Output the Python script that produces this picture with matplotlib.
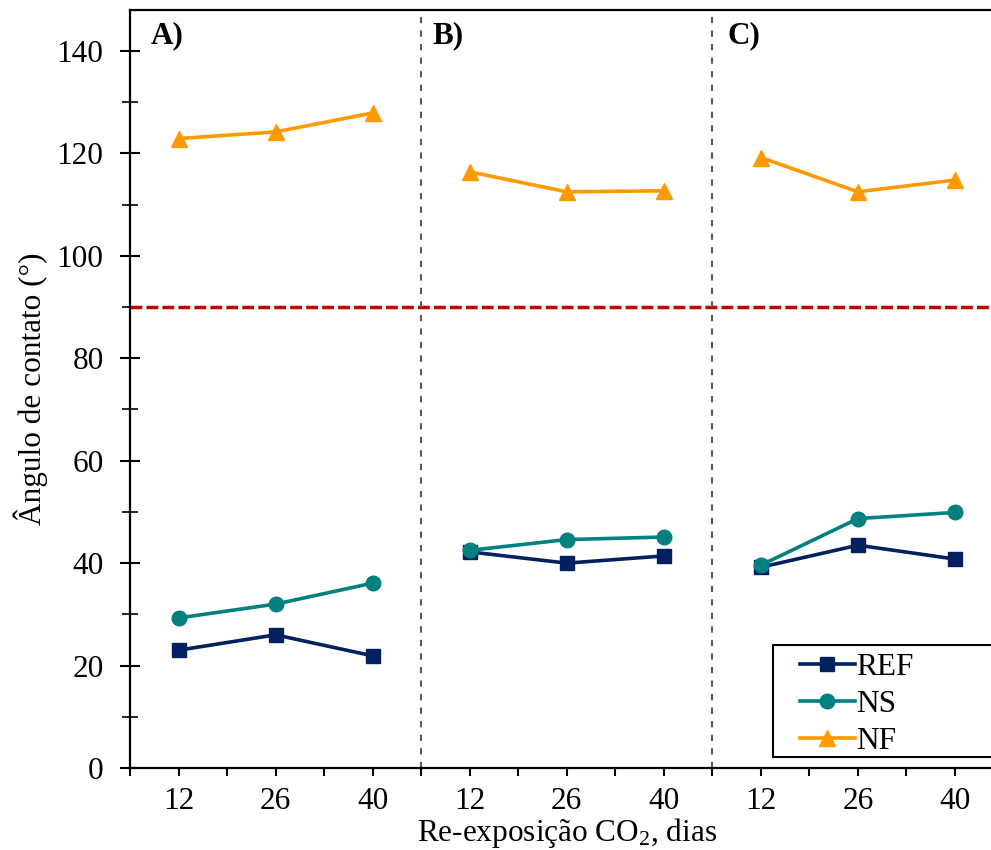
import matplotlib
matplotlib.use("Agg")
import matplotlib.pyplot as plt
from matplotlib.ticker import FixedLocator, MultipleLocator
from matplotlib.patches import Rectangle

plt.rcParams['font.family'] = ['Liberation Serif', 'DejaVu Serif']
plt.rcParams['mathtext.fontset'] = 'custom'
plt.rcParams['mathtext.rm'] = 'Liberation Serif'
plt.rcParams['mathtext.it'] = 'Liberation Serif:italic'

days = ["12", "26", "40"]
panels = ["A)", "B)", "C)"]
ref = [[23.0, 26.0, 21.9], [42.2, 40.0, 41.4], [39.2, 43.5, 40.8]]
ns = [[29.3, 32.0, 36.1], [42.5, 44.6, 45.1], [39.6, 48.7, 49.9]]
nf = [[122.9, 124.2, 127.9], [116.4, 112.5, 112.7], [119.2, 112.5, 114.8]]
threshold = 90

FS = 22.5
fig = plt.figure(figsize=(9.91, 8.5), dpi=100)
ax = fig.add_axes([130/991, 1-768/850, 873.5/991, 758/850])

series = [("REF", ref, "#002060", "s"), ("NS", ns, "#00807F", "o"), ("NF", nf, "#FF9900", "^")]
for name, vals, col, mk in series:
    for p in range(3):
        xs = [p*3 + i for i in range(3)]
        ax.plot(xs, vals[p], color=col, marker=mk, lw=2.6, ms=10.5 if mk != "^" else 11.5,
                label=name if p == 0 else None, clip_on=False)

ax.axhline(threshold, color="#C00000", ls=(0, (3.4, 1.2)), lw=2.5)
for xv in (2.5, 5.5):
    ax.axvline(xv, color="#595959", ls=(0, (3, 3.5)), lw=1.5)

ax.set_xlim(-0.5, 8.5)
ax.set_ylim(0, 148)
ax.set_xticks(range(9))
ax.set_xticklabels(days * 3)
ax.xaxis.set_minor_locator(FixedLocator([-0.5 + i for i in range(10)]))
ax.yaxis.set_major_locator(FixedLocator(list(range(0, 141, 20))))
ax.yaxis.set_minor_locator(MultipleLocator(10))
ax.tick_params(axis='x', which='both', direction='out', length=6, width=1.5, labelsize=FS, pad=8)
ax.tick_params(axis='y', which='major', direction='inout', length=14, width=1.5, labelsize=FS, pad=12)
ax.tick_params(axis='y', which='minor', direction='inout', length=12, width=1.2)
for s in ax.spines.values():
    s.set_linewidth(1.6)

panel_x = [-0.29, 2.62, 5.66]
for p, lab in enumerate(panels):
    ax.text(panel_x[p], 143.0, lab, fontsize=FS, fontweight='bold', va='center', ha='left')

ax.set_xlabel("Re-exposição CO$_2$, dias", fontsize=FS, labelpad=0)
ax.set_ylabel("Ângulo de contato (°)", fontsize=FS, labelpad=6)

# legend frame drawn as a box in axes coordinates
ax.add_patch(Rectangle((0.7361, 0.0145), 0.30, 0.1478, transform=ax.transAxes,
                       fill=True, facecolor='white', edgecolor='black', lw=1.5,
                       clip_on=False, zorder=4))
leg = ax.legend(loc='lower left', bbox_to_anchor=(0.767, 0.016),
                fontsize=FS, frameon=False, handlelength=1.75,
                handletextpad=0.05, labelspacing=0.25, borderpad=0, borderaxespad=0)
leg.set_zorder(5)

fig.savefig("out.png", dpi=100)
